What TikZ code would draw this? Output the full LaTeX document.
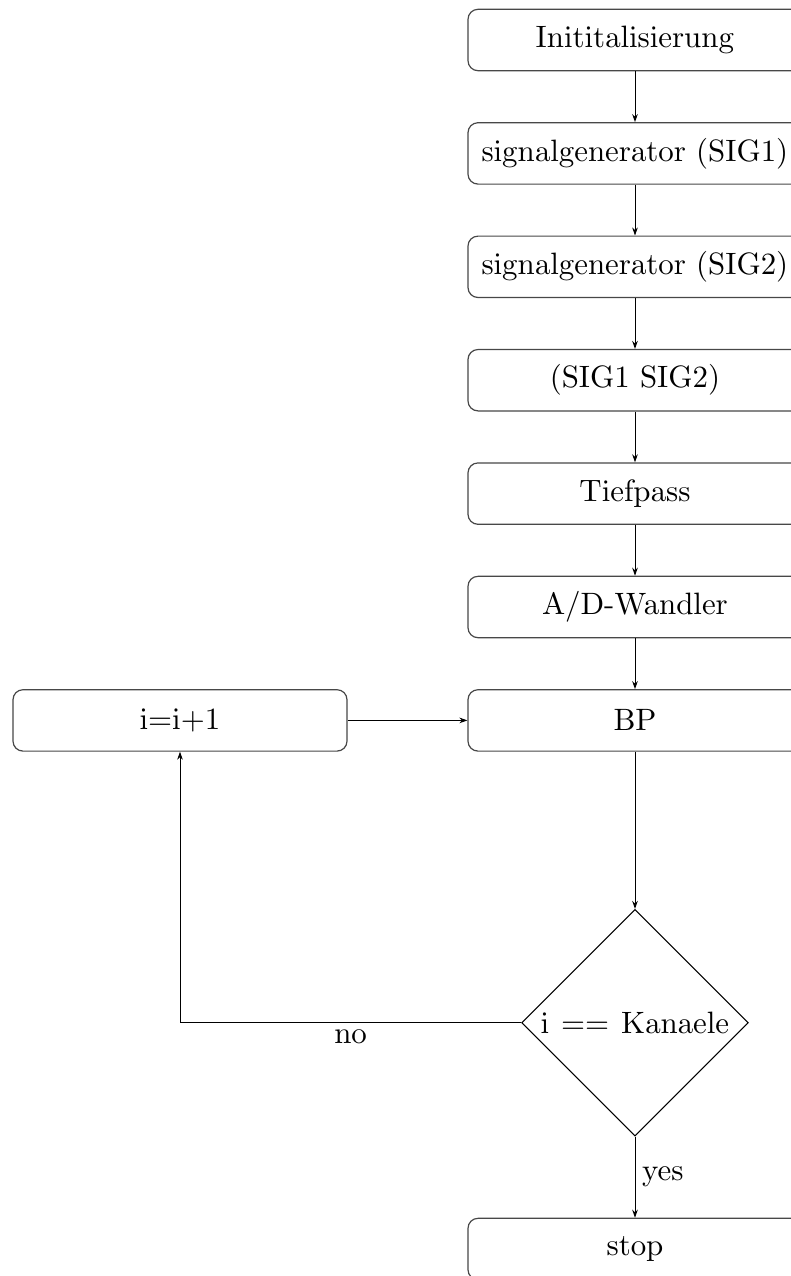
\documentclass[tikz,border=0pt]{standalone}
\usetikzlibrary{arrows.meta,shapes.geometric}
\font\reffont=cmr10 at 15.45pt
\begin{document}
\begin{tikzpicture}[x=0.5pt,y=-0.5pt,
  every node/.style={font=\reffont},
  proc/.style={rectangle,rounded corners=5pt,draw=black!72,line width=0.6pt,
    minimum width=167pt,minimum height=30.7pt,inner sep=0pt},
  decbox/.style={diamond,draw=black,line width=0.5pt,minimum width=113.3pt,
    minimum height=113.3pt,inner sep=0pt,aspect=1},
  arr/.style={-{Stealth[length=4pt,width=2.8pt]},line width=0.5pt,black}]
\useasboundingbox (0,0) rectangle (791,1276);
\node[proc] (init) at (635,40) {Inititalisierung};
\node[proc] (sig1) at (635,153.4) {signalgenerator (SIG1)};
\node[proc] (sig2) at (635,266.8) {signalgenerator (SIG2)};
\node[proc] (comb) at (635,380.2) {(SIG1 SIG2)};
\node[proc] (tp) at (635,493.6) {Tiefpass};
\node[proc] (ad) at (635,607) {A/D-Wandler};
\node[proc] (bp) at (635,720.4) {BP};
\node[proc] (inc) at (180,720.4) {i=i+1};
\node[decbox] (dec) at (635,1022.7) {};
\node (dectext) at (dec.center) {i\hspace{0.8pt} == \hspace{0.8pt}Kanaele};
\node[proc] (stop) at (635,1249) {stop};
\draw[arr] (init) -- (sig1);
\draw[arr] (sig1) -- (sig2);
\draw[arr] (sig2) -- (comb);
\draw[arr] (comb) -- (tp);
\draw[arr] (tp) -- (ad);
\draw[arr] (ad) -- (bp);
\draw[arr] (bp) -- (dec);
\draw[arr] (inc) -- (bp);
\draw[arr] (dec.west) -| (inc.south) node[pos=0.25,below] {no};
\draw[arr] (dec.south) -- (stop.north) node[midway,right] {yes};
\end{tikzpicture}
\end{document}
